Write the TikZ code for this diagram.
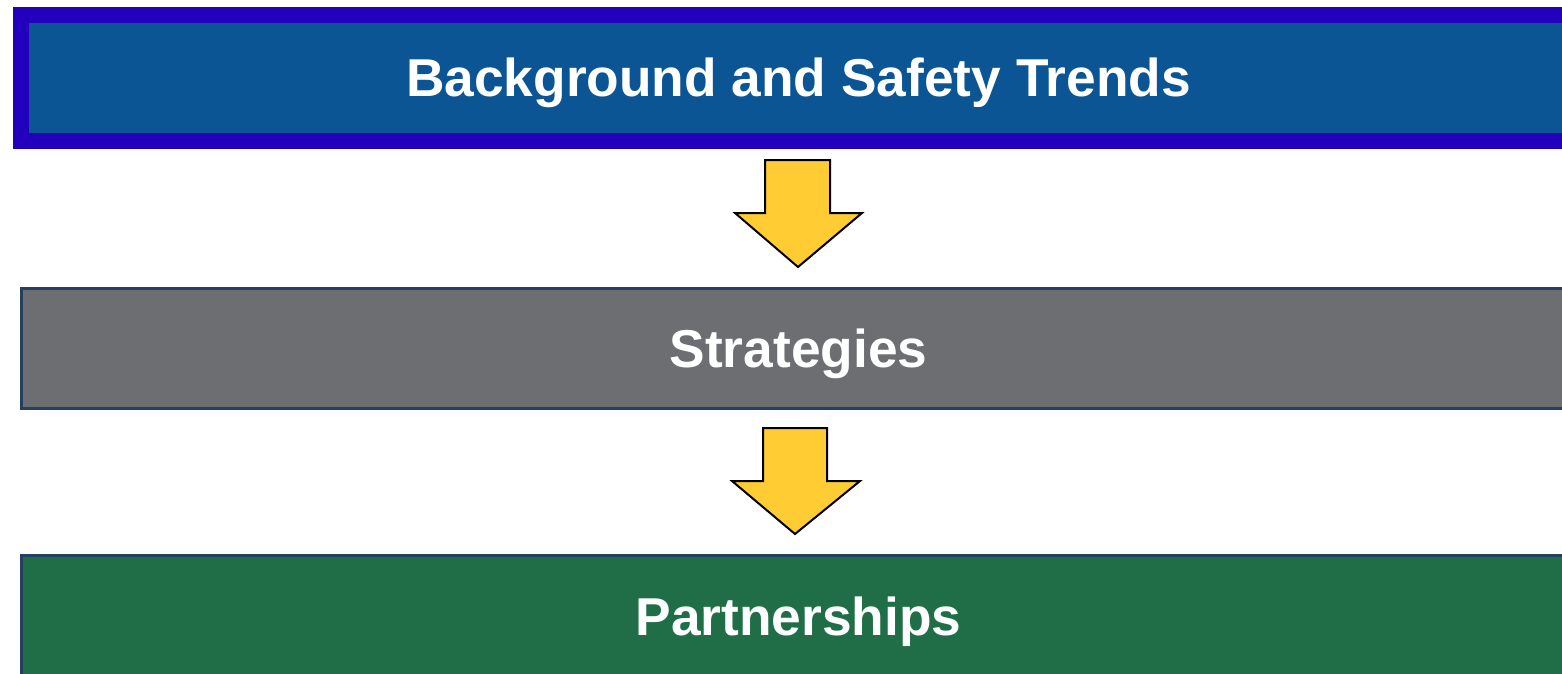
\documentclass[tikz,border=0pt]{standalone}
\usepackage{fontspec}
\setmainfont{Liberation Sans}
\definecolor{bgborder}{HTML}{2200BC}
\definecolor{bgfill}{HTML}{0B5595}
\definecolor{stfill}{HTML}{6D6E72}
\definecolor{gnfill}{HTML}{1F6E48}
\definecolor{boxline}{HTML}{243F5F}
\definecolor{arrowfill}{HTML}{FFCC33}
\begin{document}
\begin{tikzpicture}[x=1pt,y=-1pt,
  band/.style={rectangle,inner sep=0pt,outer sep=0pt},
  title/.style={text=white,font=\fontsize{53.3}{60}\selectfont\bfseries,inner sep=0pt},
  blockarrow/.style={draw=black,line width=2pt,fill=arrowfill,line join=miter}]
\useasboundingbox (0,0) rectangle (1562,673);
\clip (0,0) rectangle (1562,673);
% top band
\node[band,draw=bgborder,line width=16pt,fill=bgfill,minimum width=1560pt,minimum height=126pt,anchor=north west] (bg) at (21,15) {};
\node[title] (bgt) at (798.5,82.5) {Background and Safety Trends};
% middle band
\node[band,draw=boxline,line width=2.5pt,fill=stfill,minimum width=1560pt,minimum height=120pt,anchor=north west] (st) at (21.25,288.25) {};
\node[title] (stt) at (798.5,354) {Strategies};
% bottom band
\node[band,draw=boxline,line width=2.5pt,fill=gnfill,minimum width=1560pt,minimum height=160pt,anchor=north west] (gn) at (21.25,555.25) {};
\node[title] (gnt) at (798.5,622) {Partnerships};
% arrows
\draw[blockarrow] (765,160) -- (830,160) -- (830,213) -- (862,213) -- (798,267) -- (735,213) -- (765,213) -- cycle;
\draw[blockarrow] (763,428) -- (827,428) -- (827,481) -- (860,481) -- (795,534) -- (732,481) -- (763,481) -- cycle;
\end{tikzpicture}
\end{document}
